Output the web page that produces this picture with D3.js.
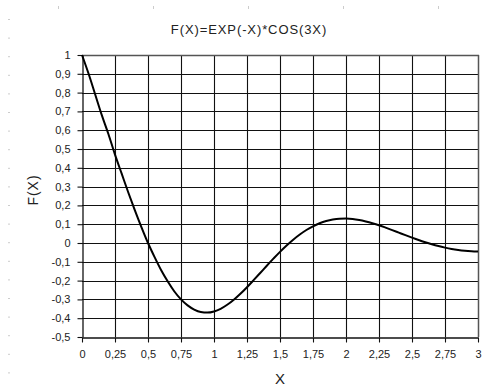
<!DOCTYPE html>
<html>
<head>
<meta charset="utf-8">
<script src="https://cdn.jsdelivr.net/npm/d3@7"></script>
<style>
  html, body { margin: 0; padding: 0; background: #fff; }
  svg { display: block; }
  text { font-family: "Liberation Sans", Arial, sans-serif; fill: #222; }
</style>
</head>
<body>
<svg id="chart" width="486" height="388"></svg>
<script>
// Sampled values of f(x) = exp(-x) * cos(3x)
const xValues = [0, 0.05, 0.1, 0.15, 0.2, 0.25, 0.3, 0.35, 0.4, 0.45, 0.5, 0.55, 0.6, 0.65, 0.7, 0.75,
  0.8, 0.85, 0.9, 0.95, 1.0, 1.05, 1.1, 1.15, 1.2, 1.25, 1.3, 1.35, 1.4, 1.45, 1.5, 1.55, 1.6, 1.65,
  1.7, 1.75, 1.8, 1.85, 1.9, 1.95, 2.0, 2.05, 2.1, 2.15, 2.2, 2.25, 2.3, 2.35, 2.4, 2.45, 2.5, 2.55,
  2.6, 2.65, 2.7, 2.75, 2.8, 2.85, 2.9, 2.95, 3.0];
const yValues = [1, 0.9, 0.79, 0.68, 0.58, 0.47, 0.37, 0.27, 0.175, 0.085, 0.0,
  -0.075, -0.145, -0.205, -0.258, -0.3, -0.332, -0.354, -0.367, -0.370, -0.364, -0.350,
  -0.3287, -0.3017, -0.2701, -0.2351, -0.1978, -0.1595, -0.1209, -0.0834, -0.0470, -0.0132, 0.0177,
  0.0452, 0.0691, 0.0890, 0.1049, 0.1169, 0.1249, 0.1291, 0.1299, 0.1277, 0.1225, 0.1147, 0.1053,
  0.0944, 0.0818, 0.0687, 0.0552, 0.0417, 0.0285, 0.0158, 0.0040, -0.0068, -0.0164, -0.0246,
  -0.0316, -0.0371, -0.0412, -0.0439, -0.0454];

const xTicks = [0, 0.25, 0.5, 0.75, 1, 1.25, 1.5, 1.75, 2, 2.25, 2.5, 2.75, 3];
const yTicks = [-0.5, -0.4, -0.3, -0.2, -0.1, 0, 0.1, 0.2, 0.3, 0.4, 0.5, 0.6, 0.7, 0.8, 0.9, 1];

const titleText = "F(X)=EXP(-X)*COS(3X)";
const xLabel = "X";
const yLabel = "F(X)";

const svg = d3.select("#chart");
const plot = { left: 82, right: 478, top: 55, bottom: 337 };

const x = d3.scaleLinear().domain([0, 3]).range([plot.left, plot.right]);
const y = d3.scaleLinear().domain([-0.5, 1]).range([plot.bottom, plot.top]);

const fmt = v => String(+v.toFixed(2)).replace(".", ",");

// faint ruler marks along the page edges
const edgeTop = [58, 153, 248, 343, 438];
svg.append("g").selectAll("rect").data(edgeTop).join("rect")
  .attr("x", d => d).attr("y", 6).attr("width", 1).attr("height", 3).attr("fill", "#ccc");
const edgeLeft = d3.range(19, 380, 18.6);
svg.append("g").selectAll("rect").data(edgeLeft).join("rect")
  .attr("x", 8).attr("y", d => d).attr("width", 2).attr("height", 1).attr("fill", "#ccc");

// grid
const grid = svg.append("g").attr("stroke", "#111").attr("stroke-width", 1.1);
grid.selectAll(".gx").data(xTicks.slice(1, -1)).join("line")
  .attr("x1", d => Math.round(x(d)) + 0.5).attr("x2", d => Math.round(x(d)) + 0.5)
  .attr("y1", plot.top).attr("y2", plot.bottom);
grid.selectAll(".gy").data(yTicks.slice(1, -1)).join("line")
  .attr("x1", plot.left).attr("x2", plot.right)
  .attr("y1", d => Math.round(y(d)) + 0.5).attr("y2", d => Math.round(y(d)) + 0.5);

// top and right frame edges in grey
const frame = svg.append("g").attr("stroke", "#555").attr("stroke-width", 1.5);
frame.append("line")
  .attr("x1", plot.right + 0.5).attr("x2", plot.right + 0.5)
  .attr("y1", plot.top).attr("y2", plot.bottom);
frame.append("line")
  .attr("x1", plot.left).attr("x2", plot.right + 1)
  .attr("y1", Math.round(y(1)) + 0.5).attr("y2", Math.round(y(1)) + 0.5);

// axes
const xAxis = svg.append("g")
  .attr("transform", `translate(0,${Math.round(y(-0.5)) + 0.5})`)
  .call(d3.axisBottom(x).tickValues(xTicks).tickFormat(fmt).tickSize(5).tickPadding(8).tickSizeOuter(0));
const yAxis = svg.append("g")
  .attr("transform", `translate(${Math.round(x(0)) + 0.5},0)`)
  .call(d3.axisLeft(y).tickValues(yTicks).tickFormat(fmt).tickSize(5).tickPadding(7).tickSizeOuter(0));

[xAxis, yAxis].forEach(g => {
  g.select(".domain").attr("stroke", "#111").attr("stroke-width", 1.3);
  g.selectAll(".tick line").attr("stroke", "#111").attr("stroke-width", 1.1);
  g.selectAll(".tick text")
    .attr("fill", "#222")
    .style("font-family", "'Liberation Sans', Arial, sans-serif")
    .style("font-size", "11px");
});

// curve
const pts = xValues.map((v, i) => [v, yValues[i]]);
svg.append("path")
  .datum(pts)
  .attr("fill", "none")
  .attr("stroke", "#000")
  .attr("stroke-width", 2)
  .attr("d", d3.line().x(d => x(d[0])).y(d => y(d[1])).curve(d3.curveMonotoneX));

// title and axis labels
svg.append("text")
  .attr("x", 249).attr("y", 34)
  .attr("text-anchor", "middle")
  .style("font-size", "13px")
  .style("letter-spacing", "0.9px")
  .text(titleText);

svg.append("text")
  .attr("x", 280).attr("y", 384)
  .attr("text-anchor", "middle")
  .style("font-size", "15px")
  .text(xLabel);

svg.append("text")
  .attr("transform", "translate(38,190) rotate(-90)")
  .attr("text-anchor", "middle")
  .style("font-size", "14px")
  .style("letter-spacing", "1px")
  .text(yLabel);
</script>
</body>
</html>
